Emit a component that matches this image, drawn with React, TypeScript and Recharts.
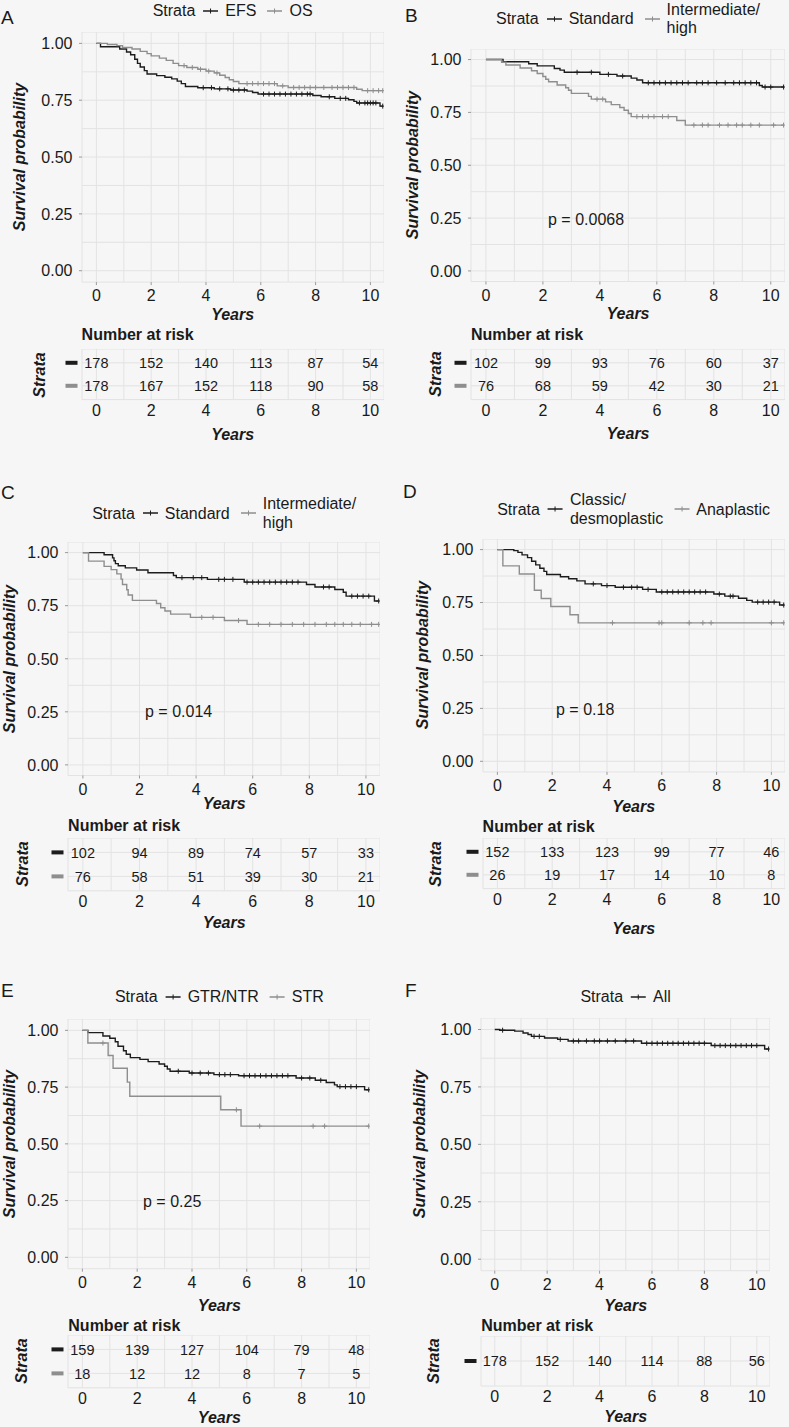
import React from 'react';
import { LineChart, Line, XAxis, YAxis, CartesianGrid, ScatterChart, Scatter } from 'recharts';

const FONT = '"Liberation Sans", Arial, Helvetica, sans-serif';
const INK = '#1a1a1a';
const BLACK = '#1c1c1c';
const GRAY = '#8e8e8e';
const BG = '#f6f6f6';
const GRID = '#e3e3e3';
const TICKC = '#9a9a9a';

// ---------- axis ticks ----------
const yearTicks = [0, 2, 4, 6, 8, 10];
const gridYears = [0, 1, 2, 3, 4, 5, 6, 7, 8, 9, 10];
const survTicks = [0, 0.25, 0.5, 0.75, 1];
const survGrid = [0, 0.125, 0.25, 0.375, 0.5, 0.625, 0.75, 0.875, 1];

// ---------- Panel A: EFS / OS ----------
const aEfsSteps: [number, number][] = [[0, 1], [0.15, 0.985], [0.85, 0.975], [1.1, 0.962], [1.25, 0.95], [1.4, 0.93], [1.5, 0.912], [1.6, 0.896], [1.75, 0.88], [1.85, 0.865], [2.2, 0.858], [2.5, 0.851], [2.75, 0.844], [2.95, 0.834], [3.1, 0.823], [3.25, 0.81], [3.7, 0.805], [4.3, 0.8], [4.9, 0.795], [5.5, 0.79], [5.7, 0.784], [5.9, 0.777], [7.9, 0.771], [8.2, 0.765], [8.7, 0.758], [9.2, 0.752], [9.4, 0.745], [9.5, 0.738], [10.35, 0.724]];
const aEfsCensor = [3.9, 4.2, 4.5, 4.8, 5.0, 5.2, 5.4, 6.1, 6.3, 6.5, 6.7, 6.9, 7.1, 7.3, 7.5, 7.7, 7.8, 8.5, 8.9, 9.1, 9.6, 9.8, 9.9, 10.0, 10.1, 10.2, 10.45];
const aOsSteps: [number, number][] = [[0, 1], [0.4, 0.995], [0.75, 0.99], [0.95, 0.982], [1.3, 0.975], [1.6, 0.965], [1.85, 0.955], [2.0, 0.945], [2.3, 0.935], [2.55, 0.925], [2.8, 0.912], [3.0, 0.902], [3.3, 0.894], [3.7, 0.886], [4.0, 0.878], [4.3, 0.87], [4.5, 0.86], [4.7, 0.85], [4.85, 0.84], [5.0, 0.832], [5.2, 0.823], [6.6, 0.813], [7.0, 0.806], [9.5, 0.798], [9.7, 0.792]];
const aOsCensor = [3.2, 3.5, 3.8, 4.1, 4.4, 5.5, 5.7, 5.9, 6.1, 6.3, 6.5, 6.8, 7.2, 7.4, 7.6, 7.8, 8.0, 8.3, 8.6, 8.8, 9.0, 9.2, 9.4, 9.9, 10.1, 10.3, 10.45];
const aRiskEfs = [178, 152, 140, 113, 87, 54];
const aRiskOs = [178, 167, 152, 118, 90, 58];

// ---------- Panel B: risk groups (OS?) ----------
const bStdSteps: [number, number][] = [[0, 1], [0.6, 0.99], [1.5, 0.98], [1.8, 0.97], [2.4, 0.958], [2.6, 0.95], [2.75, 0.94], [4.0, 0.93], [4.6, 0.922], [5.1, 0.912], [5.3, 0.903], [5.5, 0.89], [9.6, 0.877], [9.7, 0.87]];
const bStdCensor = [3.2, 3.7, 4.3, 4.8, 5.7, 5.9, 6.1, 6.3, 6.5, 6.7, 6.9, 7.1, 7.4, 7.6, 7.8, 8.1, 8.4, 8.7, 8.9, 9.1, 9.3, 9.5, 9.8, 10.0, 10.45];
const bIntSteps: [number, number][] = [[0, 1], [0.55, 0.987], [0.7, 0.974], [1.2, 0.96], [1.6, 0.947], [1.8, 0.934], [2.0, 0.92], [2.1, 0.907], [2.2, 0.895], [2.5, 0.88], [2.8, 0.867], [2.9, 0.855], [3.0, 0.84], [3.6, 0.826], [3.7, 0.813], [4.2, 0.8], [4.4, 0.787], [4.7, 0.773], [4.85, 0.76], [5.0, 0.745], [5.1, 0.73], [6.7, 0.712], [7.0, 0.69]];
const bIntCensor = [3.9, 4.1, 5.3, 5.5, 5.7, 5.9, 6.2, 6.4, 7.3, 7.6, 7.8, 8.2, 8.5, 8.8, 9.0, 9.3, 9.6, 10.1, 10.45];
const bRiskStd = [102, 99, 93, 76, 60, 37];
const bRiskInt = [76, 68, 59, 42, 30, 21];

// ---------- Panel C ----------
const cStdSteps: [number, number][] = [[0, 1], [0.75, 0.99], [1.05, 0.975], [1.1, 0.962], [1.15, 0.948], [1.25, 0.938], [1.5, 0.928], [1.9, 0.918], [2.3, 0.905], [3.2, 0.892], [3.3, 0.882], [4.4, 0.874], [5.7, 0.861], [7.9, 0.85], [8.2, 0.838], [8.9, 0.826], [9.2, 0.813], [9.3, 0.795], [10.3, 0.772]];
const cStdCensor = [3.5, 3.9, 4.2, 4.8, 5.0, 5.3, 5.8, 6.0, 6.2, 6.4, 6.6, 6.8, 7.0, 7.2, 7.4, 7.6, 8.5, 8.7, 9.5, 9.7, 9.9, 10.1, 10.45];
const cIntSteps: [number, number][] = [[0, 1], [0.2, 0.96], [0.75, 0.935], [1.0, 0.92], [1.2, 0.9], [1.35, 0.875], [1.4, 0.85], [1.55, 0.825], [1.6, 0.8], [1.75, 0.775], [2.6, 0.76], [2.75, 0.74], [2.9, 0.725], [3.1, 0.71], [3.8, 0.695], [5.0, 0.68], [5.8, 0.662]];
const cIntCensor = [4.2, 4.6, 5.5, 6.2, 6.6, 7.0, 7.4, 7.8, 8.2, 8.6, 8.9, 9.2, 9.5, 9.8, 10.2, 10.45];
const cRiskStd = [102, 94, 89, 74, 57, 33];
const cRiskInt = [76, 58, 51, 39, 30, 21];

// ---------- Panel D ----------
const dClaSteps: [number, number][] = [[0, 1], [0.6, 0.995], [0.75, 0.987], [0.9, 0.975], [1.1, 0.962], [1.25, 0.945], [1.4, 0.928], [1.55, 0.912], [1.7, 0.897], [1.8, 0.882], [2.3, 0.872], [2.6, 0.862], [2.9, 0.852], [3.2, 0.838], [3.8, 0.83], [4.3, 0.822], [5.3, 0.812], [5.8, 0.8], [7.9, 0.79], [8.3, 0.78], [8.8, 0.77], [9.1, 0.76], [9.3, 0.752], [10.3, 0.738]];
const dClaCensor = [3.5, 4.0, 4.6, 4.9, 5.1, 5.5, 6.0, 6.2, 6.4, 6.6, 6.8, 7.0, 7.2, 7.4, 7.6, 8.1, 8.5, 8.6, 9.5, 9.7, 9.9, 10.1, 10.45];
const dAnaSteps: [number, number][] = [[0, 1], [0.2, 0.923], [0.8, 0.885], [1.35, 0.808], [1.6, 0.769], [1.95, 0.731], [2.65, 0.692], [2.95, 0.654]];
const dAnaCensor = [4.2, 5.9, 6.0, 7.0, 7.5, 7.8, 10.0, 10.45];
const dRiskCla = [152, 133, 123, 99, 77, 46];
const dRiskAna = [26, 19, 17, 14, 10, 8];

// ---------- Panel E ----------
const eGtrSteps: [number, number][] = [[0, 1], [0.2, 0.99], [0.75, 0.975], [1.0, 0.965], [1.2, 0.95], [1.3, 0.93], [1.5, 0.91], [1.6, 0.895], [1.75, 0.88], [2.1, 0.872], [2.4, 0.862], [2.8, 0.852], [3.0, 0.842], [3.1, 0.83], [3.2, 0.82], [3.9, 0.812], [4.8, 0.805], [5.7, 0.8], [7.8, 0.79], [8.5, 0.78], [8.9, 0.77], [9.2, 0.76], [9.3, 0.752], [10.3, 0.738]];
const eGtrCensor = [3.5, 4.0, 4.3, 4.6, 5.0, 5.2, 5.4, 5.9, 6.1, 6.3, 6.5, 6.7, 6.9, 7.1, 7.3, 7.5, 8.0, 8.3, 8.7, 9.4, 9.6, 9.8, 10.0, 10.45];
const eStrSteps: [number, number][] = [[0, 1], [0.2, 0.944], [0.94, 0.889], [1.12, 0.833], [1.64, 0.772], [1.73, 0.71], [5.05, 0.65], [5.79, 0.578]];
const eStrCensor = [0.75, 5.62, 6.47, 8.42, 8.84, 10.45];
const eRiskGtr = [159, 139, 127, 104, 79, 48];
const eRiskStr = [18, 12, 12, 8, 7, 5];

// ---------- Panel F ----------
const fAllSteps: [number, number][] = [[0, 1], [0.19, 0.997], [0.76, 0.993], [1.08, 0.985], [1.27, 0.978], [1.4, 0.97], [1.9, 0.963], [2.4, 0.957], [2.8, 0.95], [5.6, 0.94], [8.26, 0.93], [10.3, 0.915]];
const fAllCensor = [0.3, 1.5, 1.7, 2.5, 3.0, 3.2, 3.5, 3.8, 4.0, 4.3, 4.6, 5.0, 5.3, 5.8, 6.0, 6.2, 6.4, 6.6, 6.8, 7.0, 7.2, 7.4, 7.6, 7.8, 8.0, 8.4, 8.6, 8.8, 9.0, 9.2, 9.4, 9.6, 9.8, 10.0, 10.45];
const fRiskAll = [178, 152, 140, 114, 88, 56];

// ---------- helpers ----------
const X_DOMAIN: [number, number] = [-0.525, 10.5];
const Y_DOMAIN: [number, number] = [-0.05, 1.05];
const YW = 70;
const XH = 34;

function stepAt(steps: [number, number][], t: number) {
  let s = steps[0][1];
  for (const [st, sv] of steps) if (st <= t) s = sv;
  return s;
}
function buildCurve(steps: [number, number][], censor: number[]) {
  const pts = steps.map(([t, s]) => ({ t, s, c: false }));
  censor.forEach((ct) => pts.push({ t: ct, s: stepAt(steps, ct), c: true }));
  pts.sort((a, b) => a.t - b.t);
  return pts;
}

interface CurveDef { label: string[]; color: string; steps: [number, number][]; censor: number[]; risk: number[] }

const XTick = (p: any) => {
  const v = p.payload.value;
  if (!yearTicks.includes(v)) return <g />;
  return (
    <g>
      <line x1={p.x} x2={p.x} y1={p.y - 13.5} y2={p.y - 10.5} stroke={TICKC} strokeWidth={1} />
      <text x={p.x} y={p.y} dy="0.36em" textAnchor="middle" fontSize={16} fill={INK} fontFamily={FONT}>{v}</text>
    </g>
  );
};
const YTick = (p: any) => {
  const v = p.payload.value;
  if (!survTicks.includes(v)) return <g />;
  return (
    <g>
      <line x1={p.x + 6.5} x2={p.x + 9.5} y1={p.y} y2={p.y} stroke={TICKC} strokeWidth={1} />
      <text x={p.x} y={p.y} dy="0.36em" textAnchor="end" fontSize={16} fill={INK} fontFamily={FONT}>{v.toFixed(2)}</text>
    </g>
  );
};
const RXTick = (p: any) => {
  const v = p.payload.value;
  if (!yearTicks.includes(v)) return <g />;
  return <text x={p.x} y={p.y} dy="0.36em" textAnchor="middle" fontSize={16} fill={INK} fontFamily={FONT}>{v}</text>;
};

const censorDot = (color: string) => (p: any) => {
  const k = `${p.index}-${p.cx}`;
  if (!p.payload || !p.payload.c) return <g key={k} />;
  return (
    <g key={k}>
      <line x1={p.cx - 2.5} x2={p.cx + 2.5} y1={p.cy} y2={p.cy} stroke={color} strokeWidth={1} />
      <line x1={p.cx} x2={p.cx} y1={p.cy - 2.5} y2={p.cy + 2.5} stroke={color} strokeWidth={1} />
    </g>
  );
};

interface Rect { x0: number; x1: number; y0: number; y1: number }

function KMPlot({ r, curves }: { r: Rect; curves: CurveDef[] }) {
  const w = r.x1 - r.x0;
  const h = r.y1 - r.y0;
  return (
    <div style={{ position: 'absolute', left: r.x0 - YW, top: r.y0 }}>
      <LineChart width={w + YW} height={h + XH} margin={{ top: 0, right: 0, bottom: 0, left: 0 }}>
        <CartesianGrid stroke={GRID} strokeWidth={1} fill="none" />
        <XAxis type="number" dataKey="t" domain={X_DOMAIN} ticks={gridYears} interval={0} allowDataOverflow tickLine={false} axisLine={false} height={XH} tickSize={3} tickMargin={10.5} tick={XTick} />
        <YAxis type="number" domain={Y_DOMAIN} ticks={survGrid} interval={0} allowDataOverflow tickLine={false} axisLine={false} width={YW} tickSize={3} tickMargin={6.5} tick={YTick} />
        {curves.map((c, i) => (
          <Line key={i} data={buildCurve(c.steps, c.censor)} dataKey="s" type="stepAfter" stroke={c.color} strokeWidth={1.4} dot={censorDot(c.color)} activeDot={false} isAnimationActive={false} />
        ))}
      </LineChart>
    </div>
  );
}

function RiskTable({ r, curves }: { r: Rect; curves: CurveDef[] }) {
  const w = r.x1 - r.x0;
  const h = r.y1 - r.y0;
  const n = curves.length;
  const rowTicks = curves.map((_, i) => i + 1);
  const RH = 26;
  const DashTick = (p: any) => {
    const c = curves[p.payload.value - 1];
    if (!c) return <g />;
    return <rect x={p.x - 12} y={p.y - 2} width={12} height={4} fill={c.color} />;
  };
  return (
    <div style={{ position: 'absolute', left: r.x0 - YW, top: r.y0 }}>
      <ScatterChart width={w + YW} height={h + RH} margin={{ top: 0, right: 0, bottom: 0, left: 0 }}>
        <CartesianGrid stroke={GRID} strokeWidth={1} fill="none" />
        <XAxis type="number" dataKey="t" domain={X_DOMAIN} ticks={gridYears} interval={0} allowDataOverflow tickLine={false} axisLine={false} height={RH} tickSize={0} tickMargin={10.5} tick={RXTick} />
        <YAxis type="number" dataKey="row" domain={[0.4, n + 0.6]} ticks={rowTicks} reversed interval={0} allowDataOverflow tickLine={false} axisLine={false} width={YW} tickSize={0} tickMargin={4.5} tick={DashTick} />
        {curves.map((c, i) => (
          <Scatter
            key={i}
            data={yearTicks.map((t, j) => ({ t, row: i + 1, n: c.risk[j] }))}
            isAnimationActive={false}
            shape={(p: any) => (
              <text x={p.cx} y={p.cy} dy="0.36em" textAnchor="middle" fontSize={14.5} fill={INK} fontFamily={FONT}>{p.payload.n}</text>
            )}
          />
        ))}
      </ScatterChart>
    </div>
  );
}

function T({ x, y, text, size = 16, bold = false, italic = false, anchor = 'middle', rotate = false }: any) {
  const tr = rotate ? 'translate(-50%,-50%) rotate(-90deg)' : anchor === 'start' ? 'translate(0,-50%)' : 'translate(-50%,-50%)';
  return (
    <div style={{ position: 'absolute', left: x, top: y, transform: tr, fontFamily: FONT, fontSize: size, lineHeight: 1, fontWeight: bold ? 'bold' : 'normal', fontStyle: italic ? 'italic' : 'normal', color: INK, whiteSpace: 'nowrap' }}>
      {text}
    </div>
  );
}

function Legend({ cx, cy, curves, lineH }: { cx: number; cy: number; curves: CurveDef[]; lineH: number }) {
  return (
    <div style={{ position: 'absolute', left: cx, top: cy, transform: 'translate(-50%,-50%)', display: 'flex', alignItems: 'center', fontFamily: FONT, fontSize: 16, color: INK, whiteSpace: 'nowrap' }}>
      <span style={{ marginRight: 7, lineHeight: lineH + 'px' }}>Strata</span>
      {curves.map((c, i) => (
        <React.Fragment key={i}>
          <svg width={17} height={10} style={{ marginLeft: i ? 10 : 0, marginRight: 6, display: 'block' }}>
            <line x1={1} x2={16} y1={5} y2={5} stroke={c.color} strokeWidth={1.5} />
            <line x1={8.5} x2={8.5} y1={2.5} y2={7.5} stroke={c.color} strokeWidth={1} />
          </svg>
          <div style={{ lineHeight: lineH + 'px' }}>
            {c.label.map((l, j) => <div key={j}>{l}</div>)}
          </div>
        </React.Fragment>
      ))}
    </div>
  );
}

interface PanelCfg {
  letter: string; lx: number; ly: number;
  plot: Rect; risk: Rect;
  legendY: number; lineH: number;
  ylabX: number; years1: number; nar: number; years2: number; strataX: number;
  p?: { text: string; x: number; y: number };
  curves: CurveDef[];
}

function Panel({ c }: { c: PanelCfg }) {
  const pcx = (c.plot.x0 + c.plot.x1) / 2;
  return (
    <>
      <T x={c.lx} y={c.ly} text={c.letter} size={19} anchor="start" />
      <Legend cx={pcx} cy={c.legendY} curves={c.curves} lineH={c.lineH} />
      <KMPlot r={c.plot} curves={c.curves} />
      <T x={c.ylabX} y={(c.plot.y0 + c.plot.y1) / 2} text="Survival probability" bold italic rotate />
      <T x={pcx} y={c.years1} text="Years" bold italic />
      {c.p && <T x={c.p.x} y={c.p.y} text={c.p.text} anchor="start" />}
      <T x={c.plot.x0} y={c.nar} text="Number at risk" bold anchor="start" />
      <RiskTable r={c.risk} curves={c.curves} />
      <T x={c.strataX} y={(c.risk.y0 + c.risk.y1) / 2} text="Strata" bold italic rotate />
      <T x={pcx} y={c.years2} text="Years" bold italic />
    </>
  );
}

const panels: PanelCfg[] = [
  {
    letter: 'A', lx: 1, ly: 17,
    plot: { x0: 81.6, x1: 383.7, y0: 32, y1: 282.1 },
    risk: { x0: 81.6, x1: 383.7, y0: 349.2, y1: 399.8 },
    legendY: 11, lineH: 18, ylabX: 20, years1: 315, nar: 335, years2: 435, strataX: 40,
    curves: [
      { label: ['EFS'], color: BLACK, steps: aEfsSteps, censor: aEfsCensor, risk: aRiskEfs },
      { label: ['OS'], color: GRAY, steps: aOsSteps, censor: aOsCensor, risk: aRiskOs },
    ],
  },
  {
    letter: 'B', lx: 405, ly: 15,
    plot: { x0: 471, x1: 785, y0: 48.8, y1: 281.3 },
    risk: { x0: 471, x1: 785, y0: 348.7, y1: 399.3 },
    legendY: 19, lineH: 18, ylabX: 413, years1: 314, nar: 335, years2: 434, strataX: 436,
    p: { text: 'p = 0.0068', x: 548, y: 220 },
    curves: [
      { label: ['Standard'], color: BLACK, steps: bStdSteps, censor: bStdCensor, risk: bRiskStd },
      { label: ['Intermediate/', 'high'], color: GRAY, steps: bIntSteps, censor: bIntCensor, risk: bRiskInt },
    ],
  },
  {
    letter: 'C', lx: 1, ly: 492,
    plot: { x0: 68.1, x1: 380.2, y0: 542.1, y1: 775.6 },
    risk: { x0: 68.1, x1: 380.2, y0: 837.6, y1: 890.4 },
    legendY: 513, lineH: 19, ylabX: 10, years1: 804, nar: 826, years2: 923, strataX: 23,
    p: { text: 'p = 0.014', x: 145, y: 712 },
    curves: [
      { label: ['Standard'], color: BLACK, steps: cStdSteps, censor: cStdCensor, risk: cRiskStd },
      { label: ['Intermediate/', 'high'], color: GRAY, steps: cIntSteps, censor: cIntCensor, risk: cRiskInt },
    ],
  },
  {
    letter: 'D', lx: 403, ly: 491,
    plot: { x0: 482.6, x1: 784.7, y0: 538.7, y1: 771.6 },
    risk: { x0: 482.6, x1: 784.7, y0: 838.2, y1: 888.8 },
    legendY: 509, lineH: 19, ylabX: 423, years1: 807, nar: 827, years2: 929, strataX: 436,
    p: { text: 'p = 0.18', x: 556, y: 710 },
    curves: [
      { label: ['Classic/', 'desmoplastic'], color: BLACK, steps: dClaSteps, censor: dClaCensor, risk: dRiskCla },
      { label: ['Anaplastic'], color: GRAY, steps: dAnaSteps, censor: dAnaCensor, risk: dRiskAna },
    ],
  },
  {
    letter: 'E', lx: 1, ly: 990,
    plot: { x0: 68.3, x1: 370.4, y0: 1018.7, y1: 1268.4 },
    risk: { x0: 68.3, x1: 370.4, y0: 1334.6, y1: 1387.4 },
    legendY: 997, lineH: 18, ylabX: 9.5, years1: 1306, nar: 1326, years2: 1418, strataX: 22,
    p: { text: 'p = 0.25', x: 143, y: 1202 },
    curves: [
      { label: ['GTR/NTR'], color: BLACK, steps: eGtrSteps, censor: eGtrCensor, risk: eRiskGtr },
      { label: ['STR'], color: GRAY, steps: eStrSteps, censor: eStrCensor, risk: eRiskStr },
    ],
  },
  {
    letter: 'F', lx: 405, ly: 990,
    plot: { x0: 481.2, x1: 770.1, y0: 1017.8, y1: 1270.5 },
    risk: { x0: 481.2, x1: 770.1, y0: 1336, y1: 1386 },
    legendY: 997, lineH: 18, ylabX: 420, years1: 1306, nar: 1326, years2: 1417, strataX: 434,
    curves: [
      { label: ['All'], color: BLACK, steps: fAllSteps, censor: fAllCensor, risk: fRiskAll },
    ],
  },
];

export default function App() {
  return (
    <>
      <style>{`html,body{margin:0;padding:0;background:${BG};}`}</style>
      <div style={{ position: 'relative', width: 789, height: 1427, background: BG, overflow: 'hidden' }}>
        {panels.map((p, i) => <Panel key={i} c={p} />)}
      </div>
    </>
  );
}
